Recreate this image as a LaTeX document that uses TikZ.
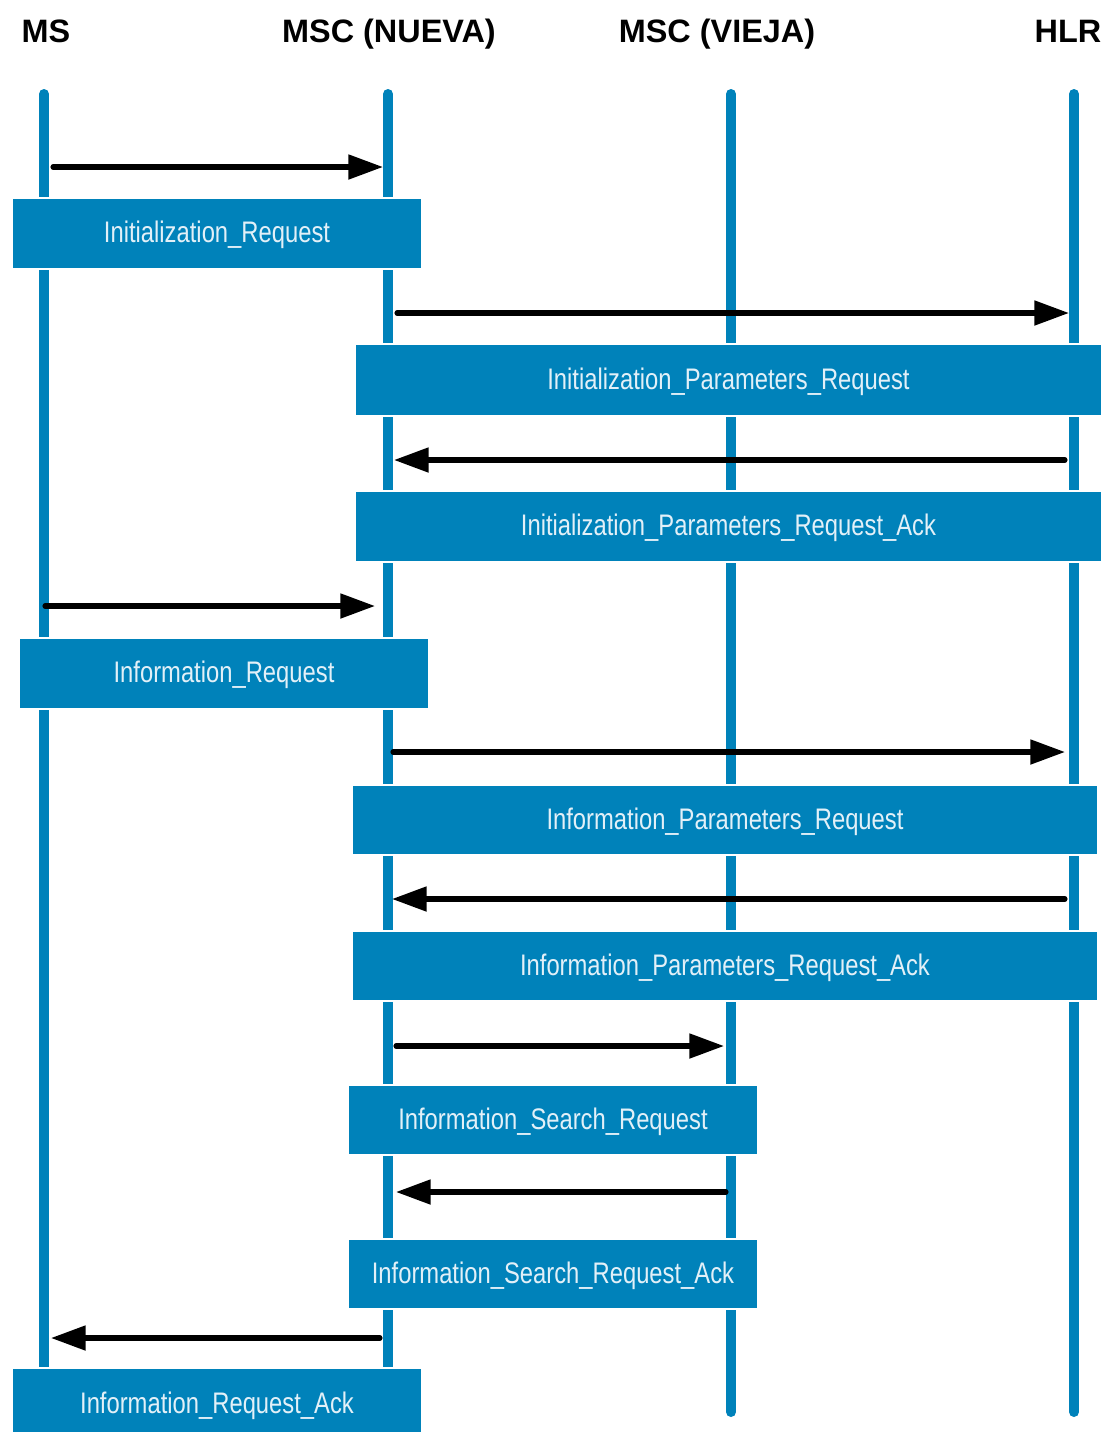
\documentclass[tikz,border=0pt]{standalone}
\usepackage{fontspec}
\setmainfont{Liberation Sans}
\newfontfamily\narrowfont[FakeStretch=0.8]{Liberation Sans}
\usetikzlibrary{arrows.meta}
\definecolor{lifeblue}{RGB}{0,130,186}
\definecolor{msgtext}{RGB}{226,240,248}
\tikzset{
  lifeline/.style={draw=lifeblue, line width=7.5pt, line cap=round},
  msgbox/.style={fill=lifeblue, draw=white, line width=1.5pt, inner sep=0pt,
     text=msgtext, font=\narrowfont\fontsize{22.3}{24}\selectfont, anchor=north west,
     text height=16pt, text depth=2pt},
  header/.style={font=\bfseries\fontsize{24.3}{26}\selectfont, inner sep=0pt, anchor=base},
  msg/.style={draw=black, line width=3.8pt, line cap=round, -{Triangle[length=26pt,width=18pt]}}
}
\begin{document}
\begin{tikzpicture}[x=0.75pt, y=-0.75pt]
\useasboundingbox (0,0) rectangle (1105,1432);
% headers
\node[header] (hms) at (46,42) {MS};
\node[header] (hnew) at (389,42) {MSC (NUEVA)};
\node[header] (hold) at (717,42) {MSC (VIEJA)};
\node[header] (hhlr) at (1068,42) {HLR};
% lifelines
\coordinate (msT) at (44,94);   \coordinate (msB) at (44,1380);
\coordinate (nwT) at (388,94);  \coordinate (nwB) at (388,1380);
\coordinate (odT) at (731,94);  \coordinate (odB) at (731,1412);
\coordinate (hlT) at (1074,94); \coordinate (hlB) at (1074,1412);
\draw[lifeline] (msT) -- (msB);
\draw[lifeline] (nwT) -- (nwB);
\draw[lifeline] (odT) -- (odB);
\draw[lifeline] (hlT) -- (hlB);
% message boxes
\node[msgbox, minimum width=410*0.75pt, minimum height=71*0.75pt] (b1) at (11,197) {Initialization\_Request};
\node[msgbox, minimum width=747*0.75pt, minimum height=72*0.75pt] (b2) at (354,343) {Initialization\_Parameters\_Request};
\node[msgbox, minimum width=747*0.75pt, minimum height=71*0.75pt] (b3) at (354,490) {Initialization\_Parameters\_Request\_Ack};
\node[msgbox, minimum width=410*0.75pt, minimum height=71*0.75pt] (b4) at (18,637) {Information\_Request};
\node[msgbox, minimum width=746*0.75pt, minimum height=70*0.75pt] (b5) at (351,784) {Information\_Parameters\_Request};
\node[msgbox, minimum width=746*0.75pt, minimum height=70*0.75pt] (b6) at (351,930) {Information\_Parameters\_Request\_Ack};
\node[msgbox, minimum width=410*0.75pt, minimum height=70*0.75pt] (b7) at (347,1084) {Information\_Search\_Request};
\node[msgbox, minimum width=410*0.75pt, minimum height=70*0.75pt] (b8) at (347,1238) {Information\_Search\_Request\_Ack};
\node[msgbox, minimum width=410*0.75pt, minimum height=72*0.75pt] (b9) at (11,1367) {Information\_Request\_Ack};
% message arrows
\coordinate (m1s) at (53,167);   \coordinate (m1e) at (383,167);
\coordinate (m2s) at (397,313);  \coordinate (m2e) at (1069,313);
\coordinate (m3s) at (1065,460); \coordinate (m3e) at (394,460);
\coordinate (m4s) at (45,606);   \coordinate (m4e) at (375,606);
\coordinate (m5s) at (393,752);  \coordinate (m5e) at (1065,752);
\coordinate (m6s) at (1065,899); \coordinate (m6e) at (392,899);
\coordinate (m7s) at (396,1046); \coordinate (m7e) at (724,1046);
\coordinate (m8s) at (726,1192); \coordinate (m8e) at (396,1192);
\coordinate (m9s) at (380,1338); \coordinate (m9e) at (51,1338);
\draw[msg] (m1s) -- (m1e);
\draw[msg] (m2s) -- (m2e);
\draw[msg] (m3s) -- (m3e);
\draw[msg] (m4s) -- (m4e);
\draw[msg] (m5s) -- (m5e);
\draw[msg] (m6s) -- (m6e);
\draw[msg] (m7s) -- (m7e);
\draw[msg] (m8s) -- (m8e);
\draw[msg] (m9s) -- (m9e);
\end{tikzpicture}
\end{document}
